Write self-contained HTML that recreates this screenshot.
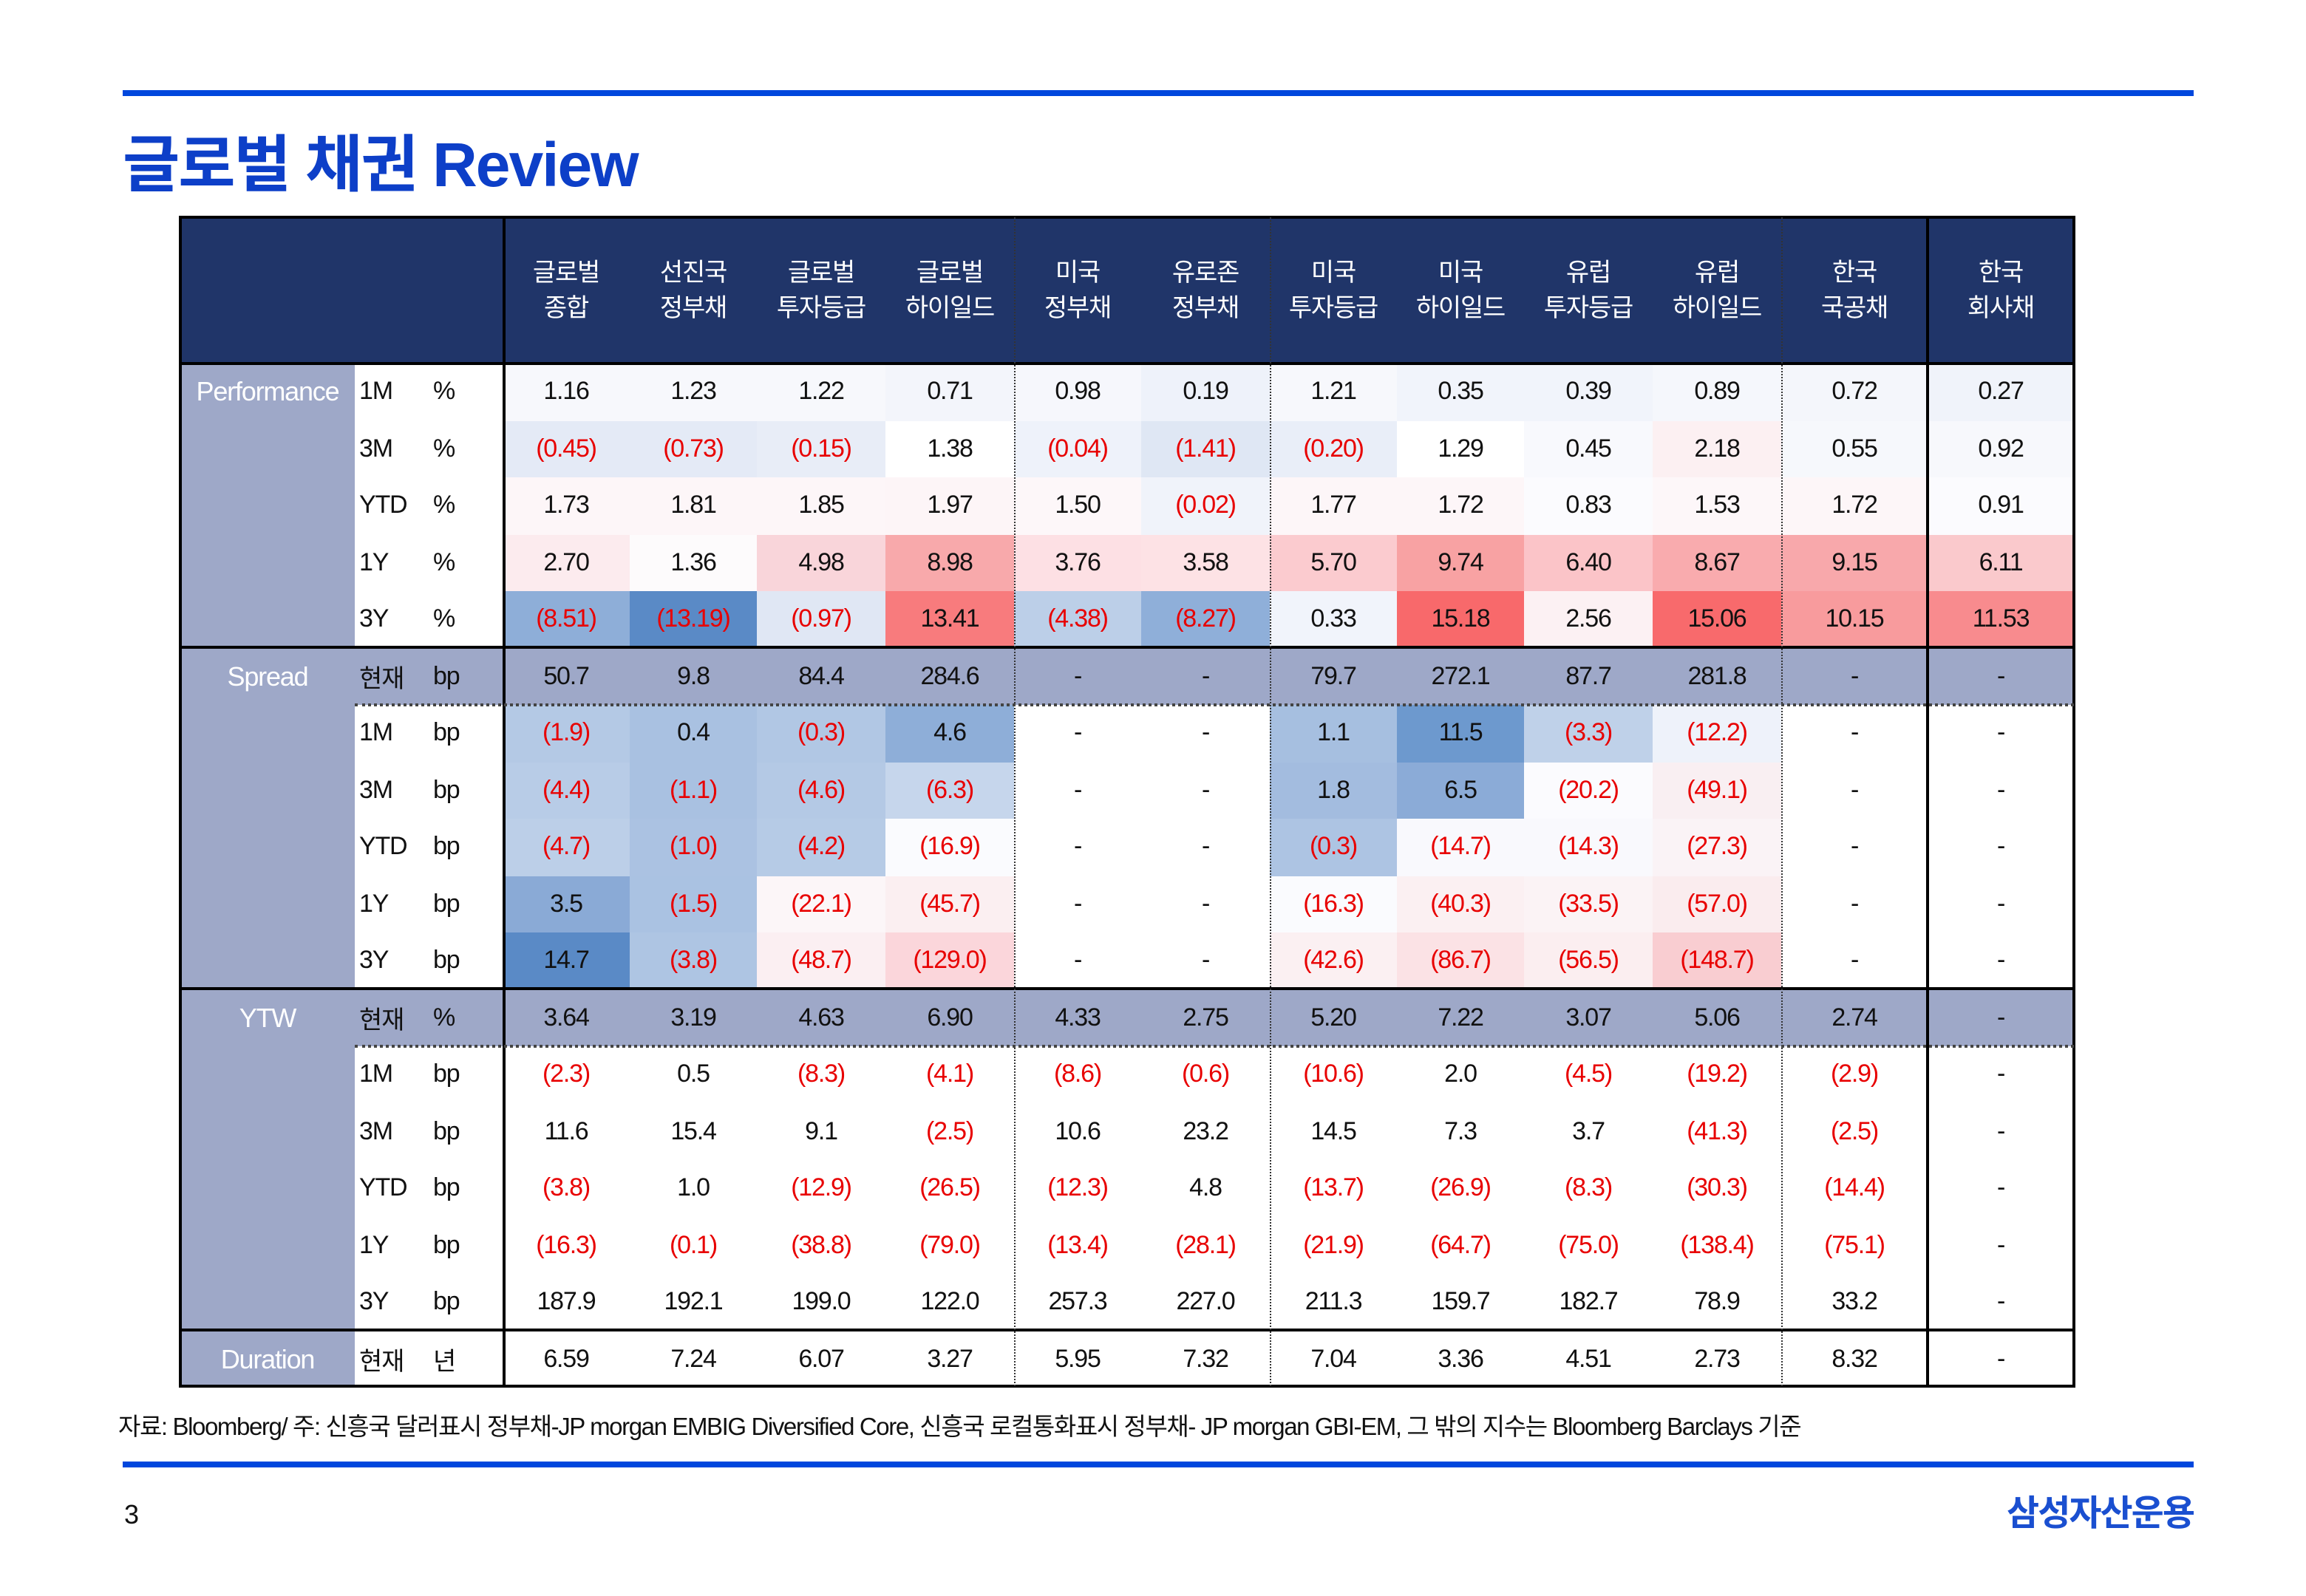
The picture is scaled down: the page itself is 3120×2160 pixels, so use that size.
<!DOCTYPE html>
<html><head><meta charset="utf-8">
<style>
html,body{margin:0;padding:0;background:#fff;}
body{width:3120px;height:2160px;overflow:hidden;position:relative;}
#w{position:absolute;left:0;top:0;width:1560px;height:1080px;transform:scale(2);transform-origin:0 0;font-family:"Liberation Sans","Noto Sans CJK KR",sans-serif;color:#111;}
.abs{position:absolute;}
table{position:absolute;left:122px;top:147px;border-collapse:collapse;table-layout:fixed;width:1281px;}
td{height:38.5px;padding:0;text-align:center;font-size:17px;letter-spacing:-0.6px;white-space:nowrap;overflow:hidden;}
tr.h td{height:99px;background:#203569;color:#fff;font-size:17px;line-height:24px;}
td.L{background:#9ea8c8;color:#fff;vertical-align:top;line-height:38.5px;font-size:18px;}
td.p{text-align:left;padding-left:3px;}
td.u{text-align:left;padding-left:3px;}
tr.c td{background:#9ea8c8;}
.r{color:#e80000;}
.hl{position:absolute;background:#000;}
.dv{position:absolute;border-left:1px dotted #333;width:0;}
.dh{position:absolute;border-top:2px dotted #444;height:0;}
</style></head><body><div id="w">
<div class="abs" style="left:83px;top:61px;width:1401px;height:4px;background:#0047dd"></div>
<div class="abs" style="left:83px;top:78px;font-size:42px;font-weight:bold;color:#0d3fc8;letter-spacing:-1px">글로벌 채권 Review</div>

<table>
<colgroup><col style="width:118px"><col style="width:50px"><col style="width:50px">
<col style="width:86px"><col style="width:86px"><col style="width:87px"><col style="width:87px"><col style="width:86px"><col style="width:87px"><col style="width:86px"><col style="width:86px"><col style="width:87px"><col style="width:87px"><col style="width:99px"><col style="width:99px"></colgroup>
<tr class="h"><td colspan="3"></td><td>글로벌<br>종합</td><td>선진국<br>정부채</td><td>글로벌<br>투자등급</td><td>글로벌<br>하이일드</td><td>미국<br>정부채</td><td>유로존<br>정부채</td><td>미국<br>투자등급</td><td>미국<br>하이일드</td><td>유럽<br>투자등급</td><td>유럽<br>하이일드</td><td>한국<br>국공채</td><td>한국<br>회사채</td></tr>

<tr><td class="L" rowspan="5">Performance</td><td class="p">1M</td><td class="u">%</td>
<td style="background:#f7f8fc">1.16</td><td style="background:#f7f8fc">1.23</td><td style="background:#f7f8fc">1.22</td><td style="background:#f3f5fb">0.71</td><td style="background:#f6f7fc">0.98</td><td style="background:#eef2fa">0.19</td><td style="background:#f7f8fc">1.21</td><td style="background:#f1f4fb">0.35</td><td style="background:#f1f4fb">0.39</td><td style="background:#f5f7fc">0.89</td><td style="background:#f4f6fb">0.72</td><td style="background:#f0f3fa">0.27</td></tr>
<tr><td class="p">3M</td><td class="u">%</td>
<td class="r" style="background:#e4eaf6">(0.45)</td><td class="r" style="background:#e4eaf6">(0.73)</td><td class="r" style="background:#e8edf7">(0.15)</td><td style="background:#fff">1.38</td><td class="r" style="background:#eef2fa">(0.04)</td><td class="r" style="background:#dfe7f4">(1.41)</td><td class="r" style="background:#e9eef8">(0.20)</td><td style="background:#fff">1.29</td><td style="background:#f8f9fd">0.45</td><td style="background:#fcf0f2">2.18</td><td style="background:#f6f8fc">0.55</td><td style="background:#f7f8fc">0.92</td></tr>
<tr><td class="p">YTD</td><td class="u">%</td>
<td style="background:#fdf6f8">1.73</td><td style="background:#fdf6f8">1.81</td><td style="background:#fdf6f8">1.85</td><td style="background:#fdf5f7">1.97</td><td style="background:#fdf7f9">1.50</td><td class="r" style="background:#f0f3fa">(0.02)</td><td style="background:#fdf6f8">1.77</td><td style="background:#fdf6f8">1.72</td><td style="background:#fbfbfe">0.83</td><td style="background:#fdf7f9">1.53</td><td style="background:#fdf6f8">1.72</td><td style="background:#fbfbfe">0.91</td></tr>
<tr><td class="p">1Y</td><td class="u">%</td>
<td style="background:#fcebee">2.70</td><td style="background:#fdfbfc">1.36</td><td style="background:#f9d5da">4.98</td><td style="background:#f8a9ab">8.98</td><td style="background:#fde0e4">3.76</td><td style="background:#fde2e5">3.58</td><td style="background:#fbcbcf">5.70</td><td style="background:#f8a2a3">9.74</td><td style="background:#fbc4c8">6.40</td><td style="background:#f9abae">8.67</td><td style="background:#f8a8ab">9.15</td><td style="background:#fac9cc">6.11</td></tr>
<tr><td class="p">3Y</td><td class="u">%</td>
<td class="r" style="background:#8eaed8">(8.51)</td><td class="r" style="background:#5a8ac6">(13.19)</td><td class="r" style="background:#e0e7f4">(0.97)</td><td style="background:#f87b7d">13.41</td><td class="r" style="background:#bccfe8">(4.38)</td><td class="r" style="background:#8fafd9">(8.27)</td><td style="background:#f1f4fb">0.33</td><td style="background:#f8696b">15.18</td><td style="background:#fcf1f3">2.56</td><td style="background:#f86a6c">15.06</td><td style="background:#f89b9d">10.15</td><td style="background:#f88b8e">11.53</td></tr>

<tr class="c"><td class="L" rowspan="6">Spread</td><td class="p">현재</td><td class="u">bp</td><td>50.7</td><td>9.8</td><td>84.4</td><td>284.6</td><td>-</td><td>-</td><td>79.7</td><td>272.1</td><td>87.7</td><td>281.8</td><td>-</td><td>-</td></tr>
<tr><td class="p">1M</td><td class="u">bp</td>
<td class="r" style="background:#b4c9e5">(1.9)</td><td style="background:#a9c1e1">0.4</td><td class="r" style="background:#b1c7e4">(0.3)</td><td style="background:#8eaed8">4.6</td><td>-</td><td>-</td><td style="background:#a6bfe0">1.1</td><td style="background:#6d99ce">11.5</td><td class="r" style="background:#bfd1e9">(3.3)</td><td class="r" style="background:#eef2fa">(12.2)</td><td>-</td><td>-</td></tr>
<tr><td class="p">3M</td><td class="u">bp</td>
<td class="r" style="background:#b8cce7">(4.4)</td><td class="r" style="background:#a9c1e1">(1.1)</td><td class="r" style="background:#b4c9e5">(4.6)</td><td class="r" style="background:#c6d6ec">(6.3)</td><td>-</td><td>-</td><td style="background:#a3bcdf">1.8</td><td style="background:#8babd7">6.5</td><td class="r" style="background:#fbfbfe">(20.2)</td><td class="r" style="background:#f9eff2">(49.1)</td><td>-</td><td>-</td></tr>
<tr><td class="p">YTD</td><td class="u">bp</td>
<td class="r" style="background:#bccfe8">(4.7)</td><td class="r" style="background:#abc2e2">(1.0)</td><td class="r" style="background:#b6cbe6">(4.2)</td><td class="r" style="background:#fafbfe">(16.9)</td><td>-</td><td>-</td><td class="r" style="background:#adc4e3">(0.3)</td><td class="r" style="background:#f9f9fd">(14.7)</td><td class="r" style="background:#f9f9fd">(14.3)</td><td class="r" style="background:#faf3f6">(27.3)</td><td>-</td><td>-</td></tr>
<tr><td class="p">1Y</td><td class="u">bp</td>
<td style="background:#8aaad6">3.5</td><td class="r" style="background:#aac2e2">(1.5)</td><td class="r" style="background:#fcf6f8">(22.1)</td><td class="r" style="background:#fbeff1">(45.7)</td><td>-</td><td>-</td><td class="r" style="background:#fafbfe">(16.3)</td><td class="r" style="background:#fbf0f2">(40.3)</td><td class="r" style="background:#fbf3f5">(33.5)</td><td class="r" style="background:#faecee">(57.0)</td><td>-</td><td>-</td></tr>
<tr><td class="p">3Y</td><td class="u">bp</td>
<td style="background:#5a8ac6">14.7</td><td class="r" style="background:#aec5e3">(3.8)</td><td class="r" style="background:#fbeff2">(48.7)</td><td class="r" style="background:#fbd6db">(129.0)</td><td>-</td><td>-</td><td class="r" style="background:#fbf0f2">(42.6)</td><td class="r" style="background:#fbe2e5">(86.7)</td><td class="r" style="background:#fbeef0">(56.5)</td><td class="r" style="background:#f9cdd1">(148.7)</td><td>-</td><td>-</td></tr>

<tr class="c"><td class="L" rowspan="6">YTW</td><td class="p">현재</td><td class="u">%</td><td>3.64</td><td>3.19</td><td>4.63</td><td>6.90</td><td>4.33</td><td>2.75</td><td>5.20</td><td>7.22</td><td>3.07</td><td>5.06</td><td>2.74</td><td>-</td></tr>
<tr><td class="p">1M</td><td class="u">bp</td><td class="r">(2.3)</td><td>0.5</td><td class="r">(8.3)</td><td class="r">(4.1)</td><td class="r">(8.6)</td><td class="r">(0.6)</td><td class="r">(10.6)</td><td>2.0</td><td class="r">(4.5)</td><td class="r">(19.2)</td><td class="r">(2.9)</td><td>-</td></tr>
<tr><td class="p">3M</td><td class="u">bp</td><td>11.6</td><td>15.4</td><td>9.1</td><td class="r">(2.5)</td><td>10.6</td><td>23.2</td><td>14.5</td><td>7.3</td><td>3.7</td><td class="r">(41.3)</td><td class="r">(2.5)</td><td>-</td></tr>
<tr><td class="p">YTD</td><td class="u">bp</td><td class="r">(3.8)</td><td>1.0</td><td class="r">(12.9)</td><td class="r">(26.5)</td><td class="r">(12.3)</td><td>4.8</td><td class="r">(13.7)</td><td class="r">(26.9)</td><td class="r">(8.3)</td><td class="r">(30.3)</td><td class="r">(14.4)</td><td>-</td></tr>
<tr><td class="p">1Y</td><td class="u">bp</td><td class="r">(16.3)</td><td class="r">(0.1)</td><td class="r">(38.8)</td><td class="r">(79.0)</td><td class="r">(13.4)</td><td class="r">(28.1)</td><td class="r">(21.9)</td><td class="r">(64.7)</td><td class="r">(75.0)</td><td class="r">(138.4)</td><td class="r">(75.1)</td><td>-</td></tr>
<tr><td class="p">3Y</td><td class="u">bp</td><td>187.9</td><td>192.1</td><td>199.0</td><td>122.0</td><td>257.3</td><td>227.0</td><td>211.3</td><td>159.7</td><td>182.7</td><td>78.9</td><td>33.2</td><td>-</td></tr>

<tr><td class="L">Duration</td><td class="p">현재</td><td class="u">년</td><td>6.59</td><td>7.24</td><td>6.07</td><td>3.27</td><td>5.95</td><td>7.32</td><td>7.04</td><td>3.36</td><td>4.51</td><td>2.73</td><td>8.32</td><td>-</td></tr>
</table>

<div class="hl" style="left:122px;top:146px;width:1282px;height:2px"></div>
<div class="hl" style="left:122px;top:937px;width:1282px;height:2px"></div>
<div class="hl" style="left:121px;top:146px;width:2px;height:793px"></div>
<div class="hl" style="left:1402px;top:146px;width:2px;height:793px"></div>
<div class="hl" style="left:122px;top:245px;width:1282px;height:2px"></div>
<div class="hl" style="left:122px;top:437px;width:1282px;height:2px"></div>
<div class="hl" style="left:122px;top:668px;width:1282px;height:2px"></div>
<div class="hl" style="left:122px;top:899px;width:1282px;height:2px"></div>
<div class="hl" style="left:340px;top:146px;width:1.5px;height:793px"></div>
<div class="hl" style="left:1303px;top:146px;width:1.5px;height:793px"></div>
<div class="dv" style="left:686px;top:147px;height:791px"></div>
<div class="dv" style="left:859px;top:147px;height:791px"></div>
<div class="dv" style="left:1205px;top:147px;height:791px"></div>
<div class="dh" style="left:240px;top:476px;width:1163px"></div>
<div class="dh" style="left:240px;top:707px;width:1163px"></div>

<div class="abs" style="left:80px;top:952px;font-size:16.5px;letter-spacing:-0.7px;color:#111">자료: Bloomberg/ 주: 신흥국 달러표시 정부채-JP morgan EMBIG Diversified Core, 신흥국 로컬통화표시 정부채- JP morgan GBI-EM, 그 밖의 지수는 Bloomberg Barclays 기준</div>
<div class="abs" style="left:83px;top:989px;width:1401px;height:4px;background:#0047dd"></div>
<div class="abs" style="left:84px;top:1015px;font-size:18px">3</div>
<div class="abs" style="left:1344px;top:1004px;width:140px;text-align:right;font-size:24px;font-weight:bold;color:#1a4fd0;letter-spacing:-1px">삼성자산운용</div>
</div></body></html>
